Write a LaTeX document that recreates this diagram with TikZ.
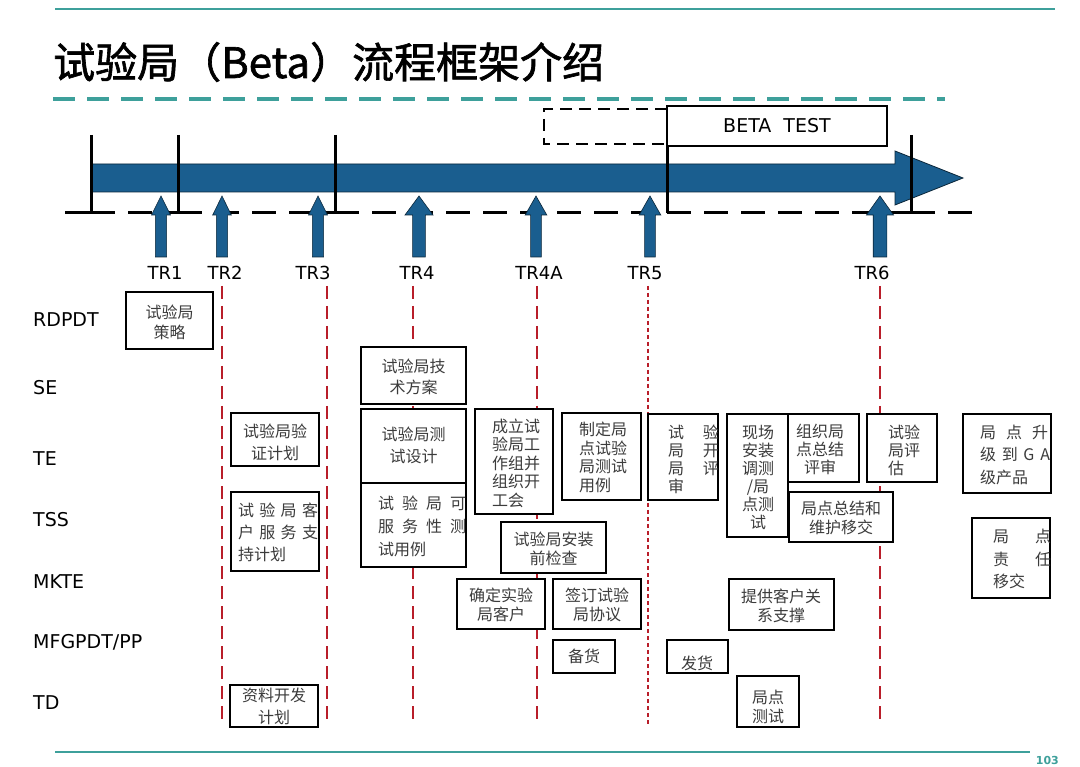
\documentclass[tikz,border=0pt]{standalone}
\usepackage{fontspec}
\setmainfont{DejaVu Sans}
\newfontfamily\cjk{Noto Sans CJK SC}
\newfontfamily\cjkt[FakeBold=1.5]{Noto Sans CJK SC}
\usetikzlibrary{calc}
\definecolor{tealc}{RGB}{62,160,155}
\definecolor{bluec}{RGB}{26,94,143}
\definecolor{redc}{RGB}{185,30,42}
\definecolor{txtc}{RGB}{60,60,60}
\tikzset{
  boxr/.style={draw=black, line width=2.5pt, fill=white, inner sep=0pt, outer sep=0pt},
  btxt/.style={font=\cjk\fontsize{16}{19}\selectfont, text=txtc, inner sep=0pt, align=center},
  lane/.style={font=\fontsize{19}{22}\selectfont, anchor=west, inner sep=0pt},
  trl/.style={font=\fontsize{18}{20}\selectfont, inner sep=0pt},
  redl/.style={draw=redc, line width=2.8pt, dash pattern=on 13pt off 7pt},
  redd/.style={draw=redc, line width=2.8pt, dash pattern=on 4pt off 3pt},
  blk/.style={draw=black, line width=3pt},
  blkd/.style={draw=black, line width=3pt, dash pattern=on 24pt off 13pt},
  tealsolid/.style={draw=tealc, line width=2pt},
  tealdash/.style={draw=tealc, line width=3.5pt, dash pattern=on 22pt off 12pt},
  trarr/.style={fill=bluec, draw=black!60!bluec, line width=0.6pt},
}
\newcommand\bbox[5]{\node[boxr, minimum width={#4-#2}, minimum height={#5-#3}] (#1) at ({(#2+#4)/2},{(#3+#5)/2}) {};}
\newcommand\trarrow[3]{%
  \path[trarr] (#1,196) -- (#1+#2,215) -- (#1+#3,215) -- (#1+#3,257) -- (#1-#3,257) -- (#1-#3,215) -- (#1-#2,215) -- cycle;}
\newcommand\spr[2]{\leavevmode\hbox to #1pt{#2}}
\begin{document}
\begin{tikzpicture}[x=1pt,y=-1pt]
\useasboundingbox[fill=white] (0,0) rectangle (1080,767);
% header / footer
\draw[tealsolid] (55,9) -- (1055,9);
\node[font=\cjkt\fontsize{42}{46}\selectfont, anchor=west, inner sep=0pt] (title) at (53,62) {试验局（Beta）流程框架介绍};
\draw[tealdash] (53,99) -- (945,99);
\draw[tealsolid] (55,752) -- (1030,752);
\node[font=\bfseries\fontsize{11}{12}\selectfont, text=tealc, anchor=east, inner sep=0pt] (pg) at (1059,760) {103};

% timeline arrow
\path[fill=bluec, draw=black!60!bluec, line width=0.8pt] (91,164) -- (895,164) -- (895,151) -- (963,178) -- (895,205) -- (895,192) -- (91,192) -- cycle;
\draw[blk] (65,213) -- (91,213);
\foreach \a/\b in {91/178,178/335,335/667,667/911,911/982} \draw[blkd] (\a,213) -- (\b,213);
\foreach \x in {91,178,335,667,911} \draw[blk] (\x,135) -- (\x,213);

% beta test
\draw[black, line width=2pt, dash pattern=on 12pt off 7pt] (667,109) -- (544,109) -- (544,144) -- (667,144);
\node[draw=black, line width=2.3pt, fill=white, minimum width=220, minimum height=40, font=\fontsize{19}{22}\selectfont, inner sep=0pt] (beta) at (777,126) {BETA\ \ TEST};

% TR arrows
\trarrow{161}{9.5}{5.6}
\trarrow{222}{9.3}{5.6}
\trarrow{318}{9.5}{5.6}
\trarrow{419}{14}{6.4}
\trarrow{536}{10.8}{5.4}
\trarrow{650}{10.8}{5.4}
\trarrow{880}{13.5}{6.8}
\node[trl] (tr1) at (165,273) {TR1};
\node[trl] (tr2) at (225,273) {TR2};
\node[trl] (tr3) at (313,273) {TR3};
\node[trl] (tr4) at (417,273) {TR4};
\node[trl] (tr4a) at (539,273) {TR4A};
\node[trl] (tr5) at (645,273) {TR5};
\node[trl] (tr6) at (872,273) {TR6};

% red milestone lines
\foreach \x in {222,327,413,537,880} \draw[redl] (\x,286) -- (\x,726);
\draw[redd] (648,286) -- (648,726);

% lane labels
\node[lane] (l1) at (33,320) {RDPDT};
\node[lane] (l2) at (33,388) {SE};
\node[lane] (l3) at (33,459) {TE};
\node[lane] (l4) at (33,520) {TSS};
\node[lane] (l5) at (33,582) {MKTE};
\node[lane] (l6) at (33,642) {MFGPDT/PP};
\node[lane] (l7) at (33,703) {TD};

% boxes
\bbox{b1}{126}{292}{213}{349}
\node[btxt, font=\cjk\fontsize{16}{20}\selectfont] (t1) at (169.5,322) {试验局\\策略};
\bbox{b2}{231}{413}{319}{466}
\node[btxt, font=\cjk\fontsize{16}{22}\selectfont] (t2) at (275,442) {试验局验\\证计划};
\bbox{b3}{231}{492}{319}{571}
\begin{scope}
\clip (b3.north west) rectangle (b3.south east);
\node[btxt, font=\cjk\fontsize{16}{22}\selectfont, text width=80, align=left] (t3) at (278,532) {\spr{80}{试\hfil 验\hfil 局\hfil 客}\\\spr{80}{户\hfil 服\hfil 务\hfil 支}\\持计划};
\end{scope}
\bbox{b4}{230}{685}{318}{727}
\node[btxt, font=\cjk\fontsize{16}{22}\selectfont] (t4) at (274,706) {资料开发\\计划};
\bbox{b5}{361}{347}{466}{404}
\node[btxt, font=\cjk\fontsize{16}{21}\selectfont] (t5) at (413.5,377) {试验局技\\术方案};
\bbox{b6}{361}{409}{466}{483}
\node[btxt, font=\cjk\fontsize{16}{22}\selectfont] (t6) at (413.5,445) {试验局测\\试设计};
\bbox{b7}{361}{483}{466}{567}
\begin{scope}
\clip (b7.north west) rectangle (b7.south east);
\node[btxt, font=\cjk\fontsize{16}{23}\selectfont, text width=88, align=left] (t7) at (422,526) {\spr{88}{试\hfil 验\hfil 局\hfil 可}\\\spr{88}{服\hfil 务\hfil 性\hfil 测}\\试用例};
\end{scope}
\bbox{b8}{475}{409}{553}{514}
\node[btxt, font=\cjk\fontsize{16}{18.5}\selectfont, text width=48, align=left] (t8) at (516,463) {成立试\\验局工\\作组并\\组织开\\工会};
\bbox{b9}{562}{413}{641}{500}
\node[btxt, font=\cjk\fontsize{16}{18.7}\selectfont, text width=48, align=left] (t9) at (603,457.5) {制定局\\点试验\\局测试\\用例};
\bbox{b10}{648}{414}{718}{500}
\begin{scope}
\clip (b10.north west) rectangle (b10.south east);
\node[btxt, font=\cjk\fontsize{16}{18}\selectfont, text width=51, align=left] (t10) at (693.5,459) {\spr{51}{试\hfil 验}\\\spr{51}{局\hfil 开}\\\spr{51}{局\hfil 评}\\审};
\end{scope}
\bbox{b11}{727}{414}{788}{537}
\node[btxt, font=\cjk\fontsize{16}{18}\selectfont] (t11) at (758,477) {现场\\安装\\调测\\/局\\点测\\试};
\bbox{b12}{788}{414}{859}{482}
\node[btxt, font=\cjk\fontsize{16}{18}\selectfont] (t12) at (820,449) {组织局\\点总结\\评审};
\bbox{b13}{789}{492}{893}{542}
\node[btxt] (t13) at (841,517.5) {局点总结和\\维护移交};
\bbox{b14}{867}{414}{937}{482}
\node[btxt, font=\cjk\fontsize{16}{18}\selectfont, text width=32, align=left] (t14) at (904,450) {试验\\局评\\估};
\bbox{b15}{963}{414}{1051}{493}
\begin{scope}
\clip (b15.north west) rectangle (b15.south east);
\node[btxt, font=\cjk\fontsize{16}{22.5}\selectfont, text width=70, align=left] (t15) at (1015,454.5) {\spr{68}{局\hfil 点\hfil 升}\\\spr{70}{级\hfil 到\hfil G\hfil A}\\级产品};
\end{scope}
\bbox{b16}{972}{518}{1050}{598}
\begin{scope}
\clip (b16.north west) rectangle (b16.south east);
\node[btxt, font=\cjk\fontsize{16}{22.5}\selectfont, text width=58, align=left] (t16) at (1022,559) {\spr{58}{局\hfil 点}\\\spr{58}{责\hfil 任}\\移交};
\end{scope}
\bbox{b17}{501}{522}{606}{573}
\node[btxt] (t17) at (553.5,548.5) {试验局安装\\前检查};
\bbox{b18}{457}{579}{545}{629}
\node[btxt] (t18) at (501,605) {确定实验\\局客户};
\bbox{b19}{553}{579}{641}{629}
\node[btxt] (t19) at (597,605) {签订试验\\局协议};
\bbox{b20}{553}{640}{615}{673}
\node[btxt] (t20) at (584,656) {备货};
\bbox{b21}{667}{640}{728}{673}
\node[btxt] (t21) at (697,663) {发货};
\bbox{b22}{729}{579}{834}{630}
\node[btxt] (t22) at (781,606) {提供客户关\\系支撑};
\bbox{b23}{737}{676}{799}{727}
\node[btxt] (t23) at (768,706.5) {局点\\测试};
\end{tikzpicture}
\end{document}
